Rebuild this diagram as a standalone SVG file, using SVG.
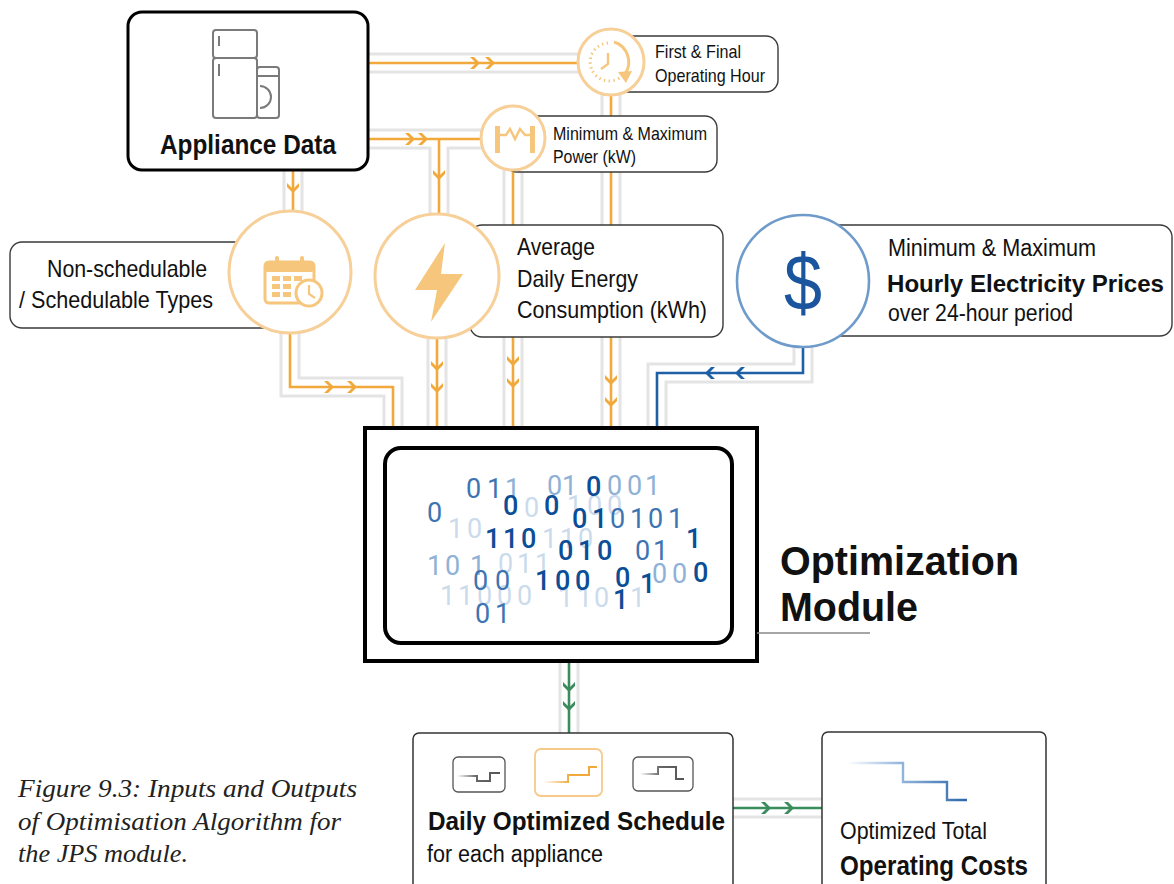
<svg xmlns="http://www.w3.org/2000/svg" width="1174" height="884" viewBox="0 0 1174 884">
  <style>
    .track { fill: none; stroke: #e4e4e4; stroke-width: 21; }
    .gap { fill: none; stroke: #ffffff; stroke-width: 15; }
    .or { fill: none; stroke: #f2a93b; stroke-width: 2.6; }
    .bl { fill: none; stroke: #1f5fa6; stroke-width: 2.6; }
    .gr { fill: none; stroke: #3b8c5c; stroke-width: 2.6; }
    .ring { fill: #ffffff; stroke: #f7cf98; stroke-width: 3; }
    .label { fill: #ffffff; stroke: #3a3a3a; stroke-width: 1.4; }
    .t { font-family: "Liberation Sans", Arial, sans-serif; fill: #111; }
    .b { font-weight: bold; }
    .icon { fill: #f6c67c; }
    .bits { font-family: Roboto, "Liberation Sans", sans-serif; font-size: 27px; }
    .d { fill: #0b4d96; font-weight: 500; }
    .m { fill: #3d74b1; }
    .l { fill: #8fb1d6; }
    .v { fill: #cbdbec; }
  </style>
  <defs>
    <path id="chev" d="M-5,-6 L-1,-6 L5,0 L-1,6 L-5,6 L1,0 Z"/>
    <linearGradient id="fadeGray" x1="0" y1="0" x2="1" y2="0">
      <stop offset="0" stop-color="#666" stop-opacity="0"/>
      <stop offset="0.45" stop-color="#666" stop-opacity="1"/>
      <stop offset="1" stop-color="#555"/>
    </linearGradient>
    <linearGradient id="fadeOrange" x1="0" y1="0" x2="1" y2="0">
      <stop offset="0" stop-color="#f2a93b" stop-opacity="0"/>
      <stop offset="0.5" stop-color="#f2a93b" stop-opacity="1"/>
      <stop offset="1" stop-color="#f2a93b"/>
    </linearGradient>
    <linearGradient id="fadeBlue" x1="0" y1="0" x2="1" y2="0">
      <stop offset="0" stop-color="#9dbde0" stop-opacity="0"/>
      <stop offset="0.4" stop-color="#9dbde0"/>
      <stop offset="1" stop-color="#2d66a8"/>
    </linearGradient>
  </defs>

  <!-- connectors: light double track, coloured line, chevrons -->
  <g id="connectors">
    <g class="track">
      <path d="M368 63 H590"/>
      <path d="M368 139 H490"/>
      <path d="M439 139 V220"/>
      <path d="M293 160 V220"/>
      <path d="M611 90 V428"/>
      <path d="M513 165 V428"/>
      <path d="M437 330 V428"/>
      <path d="M290 325 V387 H393 V428"/>
      <path d="M803 340 V373 H657 V428"/>
      <path d="M569 661 V733"/>
      <path d="M733 808 H822"/>
    </g>
    <g class="gap">
      <path d="M368 63 H590"/>
      <path d="M368 139 H490"/>
      <path d="M439 139 V220"/>
      <path d="M293 160 V220"/>
      <path d="M611 90 V428"/>
      <path d="M513 165 V428"/>
      <path d="M437 330 V428"/>
      <path d="M290 325 V387 H393 V428"/>
      <path d="M803 340 V373 H657 V428"/>
      <path d="M569 661 V733"/>
      <path d="M733 808 H822"/>
    </g>
    <g class="or">
      <path d="M368 63 H590"/>
      <path d="M368 139 H490"/>
      <path d="M439 139 V220"/>
      <path d="M293 160 V220"/>
      <path d="M611 90 V428"/>
      <path d="M513 165 V428"/>
      <path d="M437 330 V428"/>
      <path d="M290 325 V387 H393 V428"/>
    </g>
    <path class="bl" d="M803 340 V373 H657 V428"/>
    <path class="gr" d="M569 661 V733"/>
    <path class="gr" d="M733 808 H822"/>
    <g fill="#f2a93b">
      <use href="#chev" transform="translate(475 63)"/>
      <use href="#chev" transform="translate(490 63)"/>
      <use href="#chev" transform="translate(410 139)"/>
      <use href="#chev" transform="translate(423 139)"/>
      <use href="#chev" transform="translate(439 175) rotate(90)"/>
      <use href="#chev" transform="translate(293 188) rotate(90)"/>
      <use href="#chev" transform="translate(329 387)"/>
      <use href="#chev" transform="translate(352 387)"/>
      <use href="#chev" transform="translate(437 366) rotate(90)"/>
      <use href="#chev" transform="translate(437 388) rotate(90)"/>
      <use href="#chev" transform="translate(513 361) rotate(90)"/>
      <use href="#chev" transform="translate(513 383) rotate(90)"/>
      <use href="#chev" transform="translate(611 380) rotate(90)"/>
      <use href="#chev" transform="translate(611 402) rotate(90)"/>
    </g>
    <g fill="#1f5fa6">
      <use href="#chev" transform="translate(740 373) rotate(180)"/>
      <use href="#chev" transform="translate(710 373) rotate(180)"/>
    </g>
    <g fill="#3b8c5c">
      <use href="#chev" transform="translate(569 687) rotate(90)"/>
      <use href="#chev" transform="translate(569 706) rotate(90)"/>
      <use href="#chev" transform="translate(766 808)"/>
      <use href="#chev" transform="translate(789 808)"/>
    </g>
  </g>

  <!-- appliance data source -->
  <g id="appliance-data">
    <rect x="128" y="12" width="240" height="158" rx="14" fill="#fff" stroke="#000" stroke-width="3"/>
    <g fill="#fff" stroke="#7a7a7a" stroke-width="2">
      <rect x="213" y="30" width="44" height="28" rx="3"/>
      <rect x="213" y="58" width="44" height="60" rx="3"/>
      <rect x="257" y="67" width="22" height="51" rx="3"/>
      <path d="M219 36 V46 M219 64 V76 M257 76 H279 M260 86 A11 11 0 0 1 260 108" fill="none"/>
    </g>
    <text class="t b" x="248" y="154" font-size="27" text-anchor="middle" textLength="176" lengthAdjust="spacingAndGlyphs">Appliance Data</text>
  </g>

  <!-- first and final operating hour -->
  <g id="operating-hour">
    <rect class="label" x="600" y="36" width="178" height="56" rx="12"/>
    <circle class="ring" cx="611" cy="62" r="33"/>
    <path d="M608 43 A19 19 0 1 0 622 76" fill="none" stroke="#f6c67c" stroke-width="3" stroke-dasharray="1.4 3.4"/>
    <path d="M614 42 A21 21 0 0 1 625 74" fill="none" stroke="#f6c67c" stroke-width="3"/>
    <path d="M618 72 L632 71 L626 83 Z" fill="#f6c67c"/>
    <path d="M608 53 V64 L601 69" fill="none" stroke="#f6c67c" stroke-width="2.4"/>
    <text class="t" font-size="19" x="655" y="58" textLength="86" lengthAdjust="spacingAndGlyphs">First &amp; Final</text>
    <text class="t" font-size="19" x="655" y="82" textLength="110" lengthAdjust="spacingAndGlyphs">Operating Hour</text>
  </g>

  <!-- minimum and maximum power -->
  <g id="power">
    <rect class="label" x="505" y="116" width="212" height="56" rx="12"/>
    <circle class="ring" cx="513" cy="138" r="32"/>
    <rect class="icon" x="495" y="126" width="5" height="27"/>
    <rect class="icon" x="530" y="126" width="5" height="27"/>
    <path d="M500 135 H506 L510 129 L515 139 L520 129 L525 135 H530" fill="none" stroke="#f6c67c" stroke-width="2.4"/>
    <text class="t" font-size="19" x="553" y="140" textLength="154" lengthAdjust="spacingAndGlyphs">Minimum &amp; Maximum</text>
    <text class="t" font-size="19" x="553" y="163" textLength="83" lengthAdjust="spacingAndGlyphs">Power (kW)</text>
  </g>

  <!-- appliance types -->
  <g id="appliance-types">
    <rect class="label" x="10" y="242" width="270" height="86" rx="12"/>
    <circle class="ring" cx="290" cy="272" r="61"/>
    <rect x="265" y="262" width="49" height="41" rx="4" fill="none" stroke="#f6c67c" stroke-width="3"/>
    <rect class="icon" x="265" y="262" width="49" height="10" rx="3"/>
    <rect class="icon" x="275" y="256" width="4" height="10" rx="2"/>
    <rect class="icon" x="300" y="256" width="4" height="10" rx="2"/>
    <g class="icon">
      <rect x="272" y="276" width="8" height="5"/><rect x="283" y="276" width="8" height="5"/><rect x="294" y="276" width="8" height="5"/>
      <rect x="272" y="284" width="8" height="5"/><rect x="283" y="284" width="8" height="5"/>
      <rect x="272" y="292" width="8" height="5"/><rect x="283" y="292" width="8" height="5"/>
    </g>
    <circle cx="309" cy="293" r="13" fill="#fff" stroke="#f6c67c" stroke-width="3"/>
    <path d="M309 285 V294 L315 298" fill="none" stroke="#f6c67c" stroke-width="2.2"/>
    <text class="t" font-size="24" x="127" y="277" text-anchor="middle" textLength="160" lengthAdjust="spacingAndGlyphs">Non-schedulable</text>
    <text class="t" font-size="24" x="19" y="308" textLength="194" lengthAdjust="spacingAndGlyphs">/ Schedulable Types</text>
  </g>

  <!-- average daily energy consumption -->
  <g id="energy">
    <rect class="label" x="470" y="225" width="253" height="112" rx="12"/>
    <circle class="ring" cx="437" cy="276" r="62"/>
    <path class="icon" d="M445 243 L415 290 L437 290 L431 322 L463 274 L441 274 Z"/>
    <text class="t" font-size="24" x="517" y="255" textLength="78" lengthAdjust="spacingAndGlyphs">Average</text>
    <text class="t" font-size="24" x="517" y="287" textLength="121" lengthAdjust="spacingAndGlyphs">Daily Energy</text>
    <text class="t" font-size="24" x="517" y="318" textLength="190" lengthAdjust="spacingAndGlyphs">Consumption (kWh)</text>
  </g>

  <!-- hourly electricity prices -->
  <g id="prices">
    <rect class="label" x="790" y="225" width="382" height="111" rx="12"/>
    <circle cx="803" cy="281" r="66" fill="#fff" stroke="#6f9bcb" stroke-width="2.6"/>
    <text x="803" y="310" font-family="Liberation Sans, Arial, sans-serif" font-size="80" fill="#1a559d" text-anchor="middle" textLength="38" lengthAdjust="spacingAndGlyphs">$</text>
    <text class="t" font-size="23" x="888" y="256" textLength="208" lengthAdjust="spacingAndGlyphs">Minimum &amp; Maximum</text>
    <text class="t b" font-size="24.5" x="887" y="292" textLength="277" lengthAdjust="spacingAndGlyphs">Hourly Electricity Prices</text>
    <text class="t" font-size="23" x="888" y="321" textLength="185" lengthAdjust="spacingAndGlyphs">over 24-hour period</text>
  </g>

  <!-- optimization module -->
  <g id="optimization-module">
    <rect x="365" y="428" width="392" height="233" fill="#fff" stroke="#000" stroke-width="4"/>
    <rect x="385" y="448" width="347" height="195" rx="16" fill="#fff" stroke="#000" stroke-width="4"/>
    <!-- scattered bits, pale ones first so darker digits sit on top -->
    <text class="bits">
      <tspan class="v" x="567 587 607" y="515">100</tspan>
      <tspan class="v" x="448 467" y="538">10</tspan>
      <tspan class="v" x="542 560 578" y="548">110</tspan>
      <tspan class="v" x="498 517 535" y="573">011</tspan>
      <tspan class="v" x="440 458 477 497 517" y="605">11000</tspan>
      <tspan class="v" x="558 577 594 630" y="607">1101</tspan>
      <tspan class="v" x="524" y="517">0</tspan>
      <tspan class="l" x="427 445 470" y="575">101</tspan>
      <tspan class="l" x="547 562" y="495">01</tspan>
      <tspan class="l" x="607 627 645" y="495">001</tspan>
      <tspan class="l" x="652 672" y="583">00</tspan>
      <tspan class="l" x="505" y="498">1</tspan>
      <tspan class="m" x="466 487" y="498">01</tspan>
      <tspan class="m" x="427" y="522">0</tspan>
      <tspan class="m" x="610 630 648 668" y="528">0101</tspan>
      <tspan class="m" x="635 653" y="560">01</tspan>
      <tspan class="m" x="473 495" y="590">00</tspan>
      <tspan class="m" x="475 495" y="623">01</tspan>
      <tspan class="d" x="586" y="496">0</tspan>
      <tspan class="d" x="503" y="515">0</tspan>
      <tspan class="d" x="544" y="515">0</tspan>
      <tspan class="d" x="572 592" y="528">01</tspan>
      <tspan class="d" x="485 503 521" y="548">110</tspan>
      <tspan class="d" x="686" y="548">1</tspan>
      <tspan class="d" x="558 578 597" y="560">010</tspan>
      <tspan class="d" x="535 555 575" y="590">100</tspan>
      <tspan class="d" x="615" y="587">0</tspan>
      <tspan class="d" x="640" y="593">1</tspan>
      <tspan class="d" x="693" y="582">0</tspan>
      <tspan class="d" x="613" y="609">1</tspan>
    </text>
    <path d="M757 633 H870" stroke="#888" stroke-width="1.5" fill="none"/>
    <text class="t b" font-size="41" x="780" y="575" textLength="239" lengthAdjust="spacingAndGlyphs">Optimization</text>
    <text class="t b" font-size="41" x="780" y="621" textLength="138" lengthAdjust="spacingAndGlyphs">Module</text>
  </g>

  <!-- daily optimized schedule -->
  <g id="schedule">
    <rect x="413" y="733" width="320" height="170" rx="6" fill="#fff" stroke="#333" stroke-width="1.5"/>
    <rect x="453" y="757" width="52" height="35" rx="5" fill="#fff" stroke="#555" stroke-width="1.3"/>
    <path d="M457 776 H477 V781 H490 V773 H500" fill="none" stroke="url(#fadeGray)" stroke-width="2"/>
    <rect x="535" y="749" width="67" height="47" rx="6" fill="#fff" stroke="#f7c98a" stroke-width="1.8"/>
    <path d="M543 782 H568 V775 H589 V767 H597" fill="none" stroke="url(#fadeOrange)" stroke-width="2"/>
    <rect x="633" y="757" width="60" height="34" rx="5" fill="#fff" stroke="#555" stroke-width="1.3"/>
    <path d="M640 774 H658 V767 H676 V779 H684" fill="none" stroke="url(#fadeGray)" stroke-width="2"/>
    <text class="t b" font-size="26" x="428" y="830" textLength="297" lengthAdjust="spacingAndGlyphs">Daily Optimized Schedule</text>
    <text class="t" font-size="23" x="427" y="862" textLength="176" lengthAdjust="spacingAndGlyphs">for each appliance</text>
  </g>

  <!-- optimized total operating costs -->
  <g id="costs">
    <rect x="822" y="732" width="224" height="170" rx="6" fill="#fff" stroke="#333" stroke-width="1.5"/>
    <path d="M847 763 H903 V782 H947 V800 H967" fill="none" stroke="url(#fadeBlue)" stroke-width="2.4"/>
    <text class="t" font-size="24" x="840" y="839" textLength="147" lengthAdjust="spacingAndGlyphs">Optimized Total</text>
    <text class="t b" font-size="27" x="840" y="875" textLength="188" lengthAdjust="spacingAndGlyphs">Operating Costs</text>
  </g>

  <!-- figure caption -->
  <g id="caption" font-family="Liberation Serif, 'Times New Roman', serif" font-style="italic" font-size="26" fill="#222">
    <text x="18" y="797" textLength="339" lengthAdjust="spacingAndGlyphs">Figure 9.3: Inputs and Outputs</text>
    <text x="18" y="830" textLength="323" lengthAdjust="spacingAndGlyphs">of Optimisation Algorithm for</text>
    <text x="18" y="862" textLength="170" lengthAdjust="spacingAndGlyphs">the JPS module.</text>
  </g>
</svg>
